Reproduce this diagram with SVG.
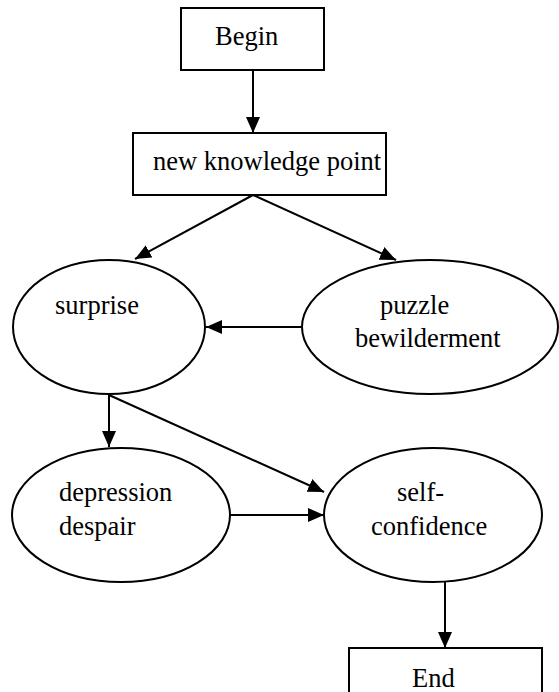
<svg xmlns="http://www.w3.org/2000/svg" width="559" height="692" viewBox="0 0 559 692">
<style>
.n{fill:#fff;stroke:#000;stroke-width:2}
.t{font-family:"Liberation Serif","Times New Roman",serif;font-size:26.5px;fill:#000}
.c line{stroke:#000;stroke-width:2;marker-end:url(#ah)}
</style>
<defs>
<marker id="ah" markerUnits="userSpaceOnUse" markerWidth="16" markerHeight="14" refX="16" refY="7" orient="auto">
<path d="M0,0 L16,7 L0,14 z" fill="#000"/>
</marker>
</defs>
<rect width="559" height="692" fill="#fff"/>
<g class="c" id="connectors">
<line x1="253" y1="70" x2="253" y2="133"/>
<line x1="253" y1="195" x2="135" y2="259"/>
<line x1="253" y1="195" x2="396" y2="260"/>
<line x1="301" y1="327" x2="206" y2="327"/>
<line x1="109" y1="395" x2="109" y2="447"/>
<line x1="109" y1="395" x2="324" y2="492"/>
<line x1="230" y1="515" x2="324" y2="515"/>
<line x1="445" y1="582" x2="445" y2="648"/>
</g>
<g id="begin">
<rect class="n" x="181" y="8" width="143" height="62"/>
<text class="t" x="215" y="45">Begin</text>
</g>
<g id="newknowledge">
<rect class="n" x="133" y="133" width="253" height="62"/>
<text class="t" x="153" y="170">new knowledge point</text>
</g>
<g id="surprise">
<ellipse class="n" cx="109" cy="327" rx="96" ry="67"/>
<text class="t" x="55" y="314">surprise</text>
</g>
<g id="puzzle">
<ellipse class="n" cx="430" cy="327" rx="128" ry="67"/>
<text class="t" x="380" y="314">puzzle</text>
<text class="t" x="355" y="347">bewilderment</text>
</g>
<g id="depression">
<ellipse class="n" cx="121" cy="515" rx="109" ry="67"/>
<text class="t" x="59" y="501">depression</text>
<text class="t" x="59" y="535">despair</text>
</g>
<g id="selfconfidence">
<ellipse class="n" cx="433" cy="515" rx="109" ry="67"/>
<text class="t" x="397" y="501">self-</text>
<text class="t" x="371" y="535">confidence</text>
</g>
<g id="end">
<rect class="n" x="349" y="648" width="193" height="60"/>
<text class="t" x="412" y="687">End</text>
</g>
</svg>
